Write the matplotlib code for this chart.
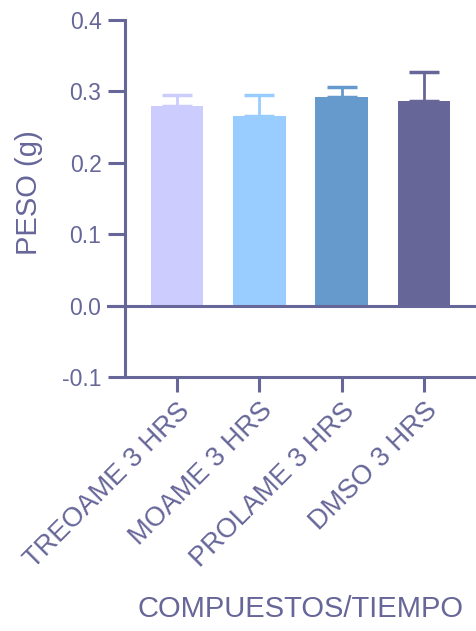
import numpy as np
import matplotlib as mpl
mpl.use('Agg')
import matplotlib.pyplot as plt

mpl.rcParams['font.family'] = ['Liberation Sans', 'DejaVu Sans']

categories = ["TREOAME 3 HRS", "MOAME 3 HRS", "PROLAME 3 HRS", "DMSO 3 HRS"]
peso = [0.280, 0.265, 0.292, 0.286]
error = [0.015, 0.030, 0.014, 0.041]
colors = ["#CCCCFF", "#99CCFF", "#6699CC", "#666699"]
yticks = [-0.1, 0.0, 0.1, 0.2, 0.3, 0.4]

axcol = "#666699"

fig = plt.figure(figsize=(4.76, 6.31), dpi=100)
ax = fig.add_axes([125/476, 254/631, 351/476, 357/631])

x = np.arange(len(categories))
for i in range(len(categories)):
    ax.bar(x[i], peso[i], width=0.64, color=colors[i], zorder=2)
    ax.errorbar(x[i], peso[i], yerr=[[0], [error[i]]], fmt='none',
                ecolor=colors[i], elinewidth=2.0, capsize=11, capthick=2.5, zorder=3)

# zero line across the plot, starting at the tick stub left of the axis
ax.axhline(0, color=axcol, lw=2.2, zorder=4, clip_on=False)
ax.plot([-0.63 - 17/82.4, -0.63], [0, 0], color=axcol, lw=2.2, clip_on=False)

ax.set_xlim(-0.63, 3.63)
ax.set_ylim(-0.1, 0.4)
ax.set_yticks(yticks)
ax.set_yticklabels(["%.1f" % v for v in yticks])
ax.set_xticks(x)
ax.set_xticklabels(categories, rotation=45, ha='right', rotation_mode='anchor')

for s in ['top', 'right']:
    ax.spines[s].set_visible(False)
for s in ['left', 'bottom']:
    ax.spines[s].set_color(axcol)
    ax.spines[s].set_linewidth(2.2)

ax.tick_params(axis='y', colors=axcol, length=12, width=2.2, labelsize=16.5, pad=5)
ax.tick_params(axis='x', colors=axcol, length=11, width=2.2, labelsize=19.5, pad=4)

ax.set_ylabel("PESO (g)", fontsize=21, color=axcol, va='center')
ax.yaxis.set_label_coords(-0.273, 0.517)
ax.set_xlabel("COMPUESTOS/TIEMPO", fontsize=21, color=axcol, va='center')
ax.xaxis.set_label_coords(0.5, -0.65)

fig.savefig("out.png", dpi=100)
